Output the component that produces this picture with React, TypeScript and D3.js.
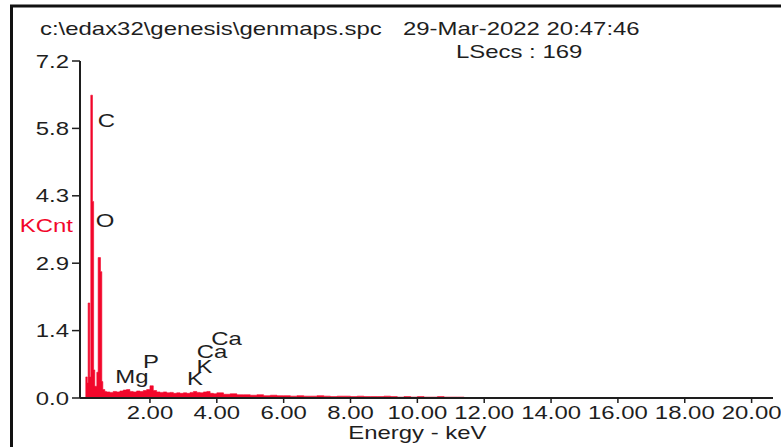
import React from "react";
import * as d3 from "d3";

// ---- data ----
const specE = [
  0.08, 0.125, 0.15, 0.2, 0.23, 0.28, 0.315, 0.35, 0.41, 0.45, 0.52, 0.56, 0.59, 0.65,
  0.7, 0.8, 0.9, 1.0, 1.1, 1.2, 1.3, 1.4, 1.5, 1.6, 1.7, 1.8, 1.9, 2.0, 2.1, 2.2, 2.3, 2.4,
  2.5, 2.6, 2.7, 2.8, 2.9, 3.0, 3.1, 3.2, 3.3, 3.4, 3.5, 3.6, 3.7, 3.8, 3.9, 4.0,
  4.2, 4.4, 4.6, 4.8, 5.0, 5.2, 5.4, 5.6, 5.8, 6.0, 6.2, 6.4, 6.6, 6.8, 7.0, 7.2, 7.4,
  7.6, 7.8, 8.0, 8.2, 8.4, 8.6, 8.8, 9.0, 9.2, 9.4, 9.6, 9.8, 10.0, 10.2, 10.4, 10.6,
  10.8, 11.0, 11.2, 11.4,
];
const specKCnt = [
  0.45, 0.32, 2.03, 0.45, 6.47, 4.2, 0.6, 0.25, 0.55, 3.0, 2.7, 0.35, 0.18, 0.14,
  0.13, 0.12, 0.14, 0.13, 0.15, 0.17, 0.18, 0.14, 0.13, 0.15, 0.14, 0.16, 0.18, 0.26, 0.16, 0.13, 0.12, 0.13,
  0.11, 0.12, 0.1, 0.11, 0.1, 0.11, 0.1, 0.12, 0.14, 0.12, 0.11, 0.13, 0.14, 0.1, 0.09, 0.11,
  0.08, 0.09, 0.07, 0.07, 0.06, 0.07, 0.05, 0.06, 0.05, 0.05, 0.04, 0.05, 0.04, 0.04, 0.05, 0.04, 0.03,
  0.04, 0.04, 0.03, 0.04, 0.03, 0.03, 0.03, 0.04, 0.03, 0.02, 0.03, 0.02, 0.03, 0.02, 0.02, 0.03,
  0.02, 0.02, 0.02, 0,
];
const peakNames = ["C", "O", "Mg", "P", "K", "K", "Ca", "Ca"];
const peakLabelE = [0.7, 0.655, 1.46, 2.03, 3.35, 3.63, 3.86, 4.29];
const peakLabelKCnt = [5.79, 3.65, 0.32, 0.64, 0.28, 0.53, 0.85, 1.13];
const yTicks = [0, 1.44, 2.88, 4.32, 5.76, 7.2];
const xTicks = [2, 4, 6, 8, 10, 12, 14, 16, 18, 20];
const titleFile = "c:\\edax32\\genesis\\genmaps.spc";
const titleDate = "29-Mar-2022 20:47:46";
const titleLive = "LSecs : 169";
const yLabel = "KCnt";
const xLabel = "Energy - keV";

const W = 781;
const H = 447;
const RED = "#f2072b";
const INK = "#1e1e1e";
const FONT = "'Liberation Sans', Arial, sans-serif";
const SX = 1.33;

const x = d3.scaleLinear().domain([-0.093, 20.64]).range([80, 773]);
const y = d3.scaleLinear().domain([0, 7.2]).range([398, 61]);

function T({ x: tx, y: ty, anchor = "start", fill = INK, children }: any) {
  return (
    <text
      transform={`translate(${tx},${ty}) scale(${SX},1)`}
      textAnchor={anchor}
      fill={fill}
      fontFamily={FONT}
      fontSize={18}
    >
      {children}
    </text>
  );
}

export default function App() {
  const pts = specE.map((e, i) => [e, specKCnt[i]] as [number, number]);
  const area = d3
    .area<[number, number]>()
    .curve(d3.curveStepAfter)
    .x((d) => x(d[0]))
    .y0(y(0))
    .y1((d) => y(d[1]));
  const fmtY = d3.format(".1f");
  const fmtX = d3.format(".2f");
  const [x0, x1] = x.range();

  return (
    <svg
      width={W}
      height={H}
      style={{ position: "absolute", left: 0, top: 0, background: "#fff" }}
    >
      <rect x={0} y={0} width={W} height={H} fill="#fff" />
      {/* frame */}
      <line x1={11.5} x2={11.5} y1={5} y2={H} stroke="#111" strokeWidth={3} />
      <line x1={10} x2={W} y1={6} y2={6} stroke="#111" strokeWidth={3} />

      {/* header */}
      <T x={40} y={35}>{titleFile}</T>
      <T x={403} y={35}>{titleDate}</T>
      <T x={456} y={58}>{titleLive}</T>

      {/* spectrum */}
      <path d={area(pts) || ""} fill={RED} stroke={RED} strokeWidth={0.6} />

      {/* y axis */}
      <line x1={x0} x2={x0} y1={y(7.2)} y2={y(0)} stroke={INK} strokeWidth={2} />
      {yTicks.map((t) => (
        <g key={t}>
          <line x1={x0 - 8} x2={x0} y1={y(t)} y2={y(t)} stroke={INK} strokeWidth={1.5} />
          <T x={x0 - 11} y={y(t) + 6.5} anchor="end">{fmtY(t)}</T>
        </g>
      ))}
      <T x={73} y={232} anchor="end" fill={RED}>{yLabel}</T>

      {/* x axis */}
      <line x1={x0} x2={x1} y1={y(0)} y2={y(0)} stroke={INK} strokeWidth={2} />
      {xTicks.map((t) => (
        <g key={t}>
          <line x1={x(t)} x2={x(t)} y1={y(0)} y2={y(0) + 5} stroke={INK} strokeWidth={1.5} />
          <T x={x(t)} y={419} anchor="middle">{fmtX(t)}</T>
        </g>
      ))}
      <T x={x(10)} y={439} anchor="middle">{xLabel}</T>

      {/* peak labels */}
      {peakNames.map((n, i) => (
        <T key={i} x={x(peakLabelE[i])} y={y(peakLabelKCnt[i])} anchor="middle">{n}</T>
      ))}
    </svg>
  );
}
